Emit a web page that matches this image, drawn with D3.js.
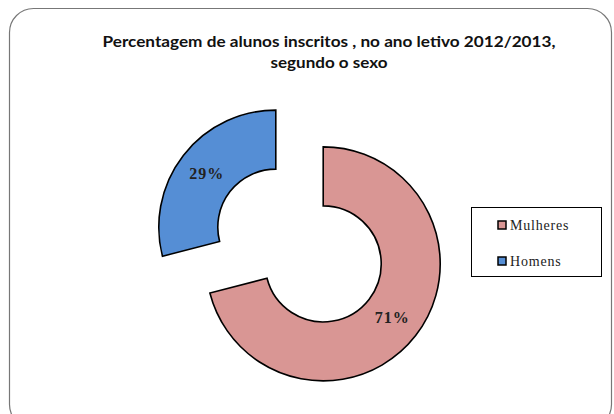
<!DOCTYPE html>
<html>
<head>
<meta charset="utf-8">
<script src="https://cdn.jsdelivr.net/npm/d3@7"></script>
<style>
  body { margin: 0; background: #fff; }
</style>
</head>
<body>
<div id="chart"></div>
<script>
const categories = ['Mulheres', 'Homens'];
const values = [71, 29];
const titleLines = ['Percentagem de alunos inscritos , no ano letivo 2012/2013,', 'segundo o sexo'];

const width = 614, height = 414;
const svg = d3.select('#chart').append('svg')
    .attr('width', width)
    .attr('height', height);

// chart frame (rounded, runs past the bottom of the picture)
svg.append('rect')
    .attr('x', 9.5).attr('y', 8.5)
    .attr('width', 602).attr('height', 420)
    .attr('rx', 24).attr('ry', 24)
    .attr('fill', '#fff')
    .attr('stroke', '#777')
    .attr('stroke-width', 1.2);

// title
const titleW = [453, 117];
svg.append('g').selectAll('text')
    .data(titleLines)
    .enter().append('text')
    .attr('x', 329)
    .attr('y', (_, i) => 47 + i * 21)
    .attr('text-anchor', 'middle')
    .attr('textLength', (_, i) => titleW[i])
    .attr('lengthAdjust', 'spacingAndGlyphs')
    .style('font-family', 'Lato, "Open Sans", sans-serif')
    .style('font-weight', 'bold')
    .style('font-size', '16px')
    .style('fill', '#111')
    .text(d => d);

const color = d3.scaleOrdinal()
    .domain(categories)
    .range(['#d99694', '#558ed5']);

const cx = 299.5, cy = 245.5, explode = 30;
const rInner = 58, rOuter = 117;

const pie = d3.pie().sort(null).value(d => d.value);
const arcs = pie(categories.map((c, i) => ({ cat: c, value: values[i] })));
const arc = d3.arc().innerRadius(rInner).outerRadius(rOuter);

const slices = svg.append('g')
    .attr('transform', 'translate(' + cx + ',' + cy + ')')
    .selectAll('g')
    .data(arcs)
    .enter().append('g')
    .attr('transform', d => {
        const a = (d.startAngle + d.endAngle) / 2;
        return 'translate(' + (explode * Math.sin(a)) + ',' + (-explode * Math.cos(a)) + ')';
    });

slices.append('path')
    .attr('d', arc)
    .attr('fill', d => color(d.data.cat))
    .attr('stroke', '#000')
    .attr('stroke-width', 1.6);

slices.append('text')
    .attr('transform', d => 'translate(' + arc.centroid(d) + ')')
    .attr('text-anchor', 'middle')
    .attr('dy', '0.35em')
    .style('font-family', '"Liberation Serif", "Times New Roman", serif')
    .style('font-weight', 'bold')
    .style('font-size', '16px')
    .style('letter-spacing', '1px')
    .style('fill', '#222')
    .text(d => d.data.value + '%');

// legend
const legend = svg.append('g');
legend.append('rect')
    .attr('x', 471.5).attr('y', 207.5)
    .attr('width', 130).attr('height', 69)
    .attr('fill', '#fff')
    .attr('stroke', '#000')
    .attr('stroke-width', 1);

const items = legend.selectAll('g.item')
    .data(categories)
    .enter().append('g')
    .attr('class', 'item')
    .attr('transform', (_, i) => 'translate(498,' + (225 + i * 36) + ')');

items.append('rect')
    .attr('x', 0).attr('y', -4)
    .attr('width', 8).attr('height', 8)
    .attr('fill', d => color(d))
    .attr('stroke', '#000')
    .attr('stroke-width', 1.5);

items.append('text')
    .attr('x', 12)
    .attr('dy', '0.35em')
    .style('font-family', '"Liberation Serif", "Times New Roman", serif')
    .style('font-size', '14px')
    .style('letter-spacing', '0.8px')
    .style('fill', '#222')
    .text(d => d);
</script>
</body>
</html>
